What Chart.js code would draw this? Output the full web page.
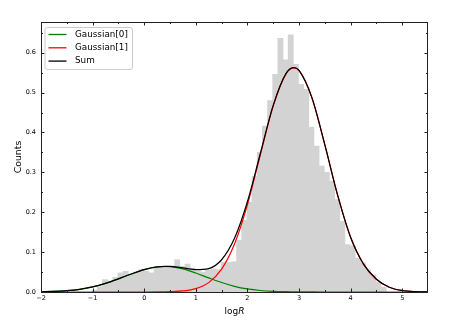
<!DOCTYPE html>
<html>
<head>
<meta charset="utf-8">
<script src="https://cdn.jsdelivr.net/npm/chart.js@4/dist/chart.umd.min.js"></script>
<style>
html,body{margin:0;padding:0;background:#fff;}
#wrap{width:455px;height:325px;position:relative;}
</style>
</head>
<body>
<div id="wrap"><canvas id="c" width="455" height="325"></canvas></div>
<script>
// Histogram bins (centres) and heights
const binCenters = [-0.96,-0.86,-0.76,-0.66,-0.56,-0.46,-0.36,-0.26,-0.16,-0.06,
  0.04,0.14,0.24,0.34,0.44,0.54,0.64,0.74,0.84,0.94,
  1.04,1.14,1.24,1.34,1.44,1.54,1.64,1.74,1.84,1.94,
  2.04,2.14,2.24,2.34,2.44,2.54,2.64,2.74,2.84,2.94,
  3.04,3.14,3.24,3.34,3.44,3.54,3.64,3.74,3.84,3.94,
  4.04,4.14,4.24,4.34,4.44,4.54,4.64];
const binCounts = [0.005,0.013,0.031,0.025,0.037,0.048,0.052,0.045,0.050,0.056,
  0.052,0.048,0.062,0.064,0.062,0.064,0.081,0.064,0.070,0.060,
  0.052,0.050,0.055,0.058,0.056,0.075,0.074,0.076,0.130,0.180,
  0.225,0.290,0.350,0.416,0.480,0.546,0.636,0.582,0.645,0.571,
  0.521,0.508,0.413,0.366,0.316,0.300,0.278,0.232,0.177,0.119,
  0.116,0.085,0.073,0.056,0.043,0.025,0.012];

// Curves
const curveX = [-2,-1.75,-1.5,-1.25,-1,-0.75,-0.5,-0.25,0,0.25,0.4,0.5,0.75,1,1.25,1.5,1.75,2,2.25,2.5,2.75,2.9,3,3.25,3.5,3.75,4,4.25,4.5,4.75,5,5.25,5.5];
const gauss0 = [0.0006,0.0014,0.0033,0.0068,0.0128,0.0216,0.0329,0.0452,0.0561,0.0628,0.0640,0.0635,0.0579,0.0476,0.0353,0.0237,0.0143,0.0078,0.0038,0.0017,0.0007,0.0004,0.0002,0.0001,0,0,0,0,0,0,0,0,0];
const gauss1 = [0,0,0,0,0,0,0,0,0.00003,0.0002,0.0004,0.0007,0.0026,0.0084,0.0235,0.0572,0.1203,0.2186,0.3435,0.4664,0.5475,0.5620,0.5555,0.4872,0.3694,0.2421,0.1372,0.0700,0.0320,0.0120,0.0038,0.0009,0.0002];
const gaussSum = [0.0006,0.0014,0.0033,0.0068,0.0128,0.0216,0.0329,0.0452,0.0561,0.0630,0.0644,0.0642,0.0605,0.0560,0.0588,0.0809,0.1346,0.2264,0.3473,0.4681,0.5482,0.5624,0.5557,0.4873,0.3694,0.2421,0.1372,0.0700,0.0320,0.0120,0.0038,0.0009,0.0002];

const xMajor = [-2,-1,0,1,2,3,4,5];
const xMinor = [-1.5,-0.5,0.5,1.5,2.5,3.5,4.5];
const yMajor = [0,0.1,0.2,0.3,0.4,0.5,0.6];
const yMinor = [0.05,0.15,0.25,0.35,0.45,0.55,0.65];
const xTickLabels = ['\u22122','\u22121','0','1','2','3','4','5'];
const yTickLabels = ['0.0','0.1','0.2','0.3','0.4','0.5','0.6'];
const legendLabels = ['Gaussian[0]','Gaussian[1]','Sum'];
const legendColors = ['#008000','#ff0000','#000000'];

const pts = (xs, ys) => xs.map((x,i)=>({x:x, y:ys[i]}));

const decor = {
  id: 'decor',
  afterDatasetsDraw(chart) {
    const ctx = chart.ctx, a = chart.chartArea, xs = chart.scales.x, ys = chart.scales.y;
    ctx.save();
    ctx.strokeStyle = '#222';
    ctx.lineWidth = 1;
    ctx.strokeRect(Math.round(a.left)+0.5, Math.round(a.top)+0.5, Math.round(a.right-a.left)-1, Math.round(a.bottom-a.top));
    const tick = (len, vals, axis) => {
      ctx.beginPath();
      vals.forEach(v => {
        if (axis === 'x') {
          const p = Math.round(xs.getPixelForValue(v)) + 0.5;
          ctx.moveTo(p, a.bottom); ctx.lineTo(p, a.bottom - len);
          ctx.moveTo(p, a.top); ctx.lineTo(p, a.top + len);
        } else {
          const p = Math.round(ys.getPixelForValue(v)) + 0.5;
          ctx.moveTo(a.left, p); ctx.lineTo(a.left + len, p);
          ctx.moveTo(a.right, p); ctx.lineTo(a.right - len, p);
        }
      });
      ctx.stroke();
    };
    tick(3.5, xMajor, 'x'); tick(2, xMinor, 'x');
    tick(3.5, yMajor, 'y'); tick(2, yMinor, 'y');

    // tick labels
    ctx.fillStyle = '#000';
    ctx.font = '6.5px "DejaVu Sans"';
    ctx.textBaseline = 'middle';
    ctx.textAlign = 'center';
    xMajor.forEach((v, i) => ctx.fillText(xTickLabels[i], xs.getPixelForValue(v), a.bottom + 6.5));
    ctx.textAlign = 'right';
    yMajor.forEach((v, i) => ctx.fillText(yTickLabels[i], a.left - 5, ys.getPixelForValue(v)));

    // y title
    ctx.save();
    ctx.translate(18.5, (a.top + a.bottom) / 2);
    ctx.rotate(-Math.PI / 2);
    ctx.textAlign = 'center';
    ctx.textBaseline = 'middle';
    ctx.font = '9.3px "DejaVu Sans"';
    ctx.fillText('Counts', 0, 0);
    ctx.restore();

    // x-axis title "logR" with italic R
    const f1 = '9px "DejaVu Sans"', f2 = 'italic 9px "DejaVu Sans"';
    ctx.textAlign = 'left';
    ctx.textBaseline = 'alphabetic';
    ctx.font = f1; const w1 = ctx.measureText('log').width;
    ctx.font = f2; const w2 = ctx.measureText('R').width;
    const cx = (a.left + a.right) / 2;
    const sx = cx - (w1 + w2) / 2;
    ctx.font = f1; ctx.fillText('log', sx, 313.5);
    ctx.font = f2; ctx.fillText('R', sx + w1, 313.5);

    // legend
    const lx = 45, ly = 27.5, lw = 87.5, lh = 42;
    ctx.beginPath();
    if (ctx.roundRect) ctx.roundRect(lx, ly, lw, lh, 2.5); else ctx.rect(lx, ly, lw, lh);
    ctx.fillStyle = 'rgba(255,255,255,0.85)';
    ctx.fill();
    ctx.strokeStyle = '#cccccc';
    ctx.lineWidth = 1;
    ctx.stroke();
    ctx.font = '8.8px "DejaVu Sans"';
    ctx.textBaseline = 'middle';
    ctx.textAlign = 'left';
    legendLabels.forEach((t, i) => {
      const y = 34.5 + i * 13.3;
      ctx.strokeStyle = legendColors[i];
      ctx.lineWidth = 1.3;
      ctx.beginPath(); ctx.moveTo(48.5, y); ctx.lineTo(66.5, y); ctx.stroke();
      ctx.fillStyle = '#000';
      ctx.fillText(t, 75, y);
    });
    ctx.restore();
  }
};

new Chart(document.getElementById('c'), {
  type: 'bar',
  data: {
    datasets: [
      { type: 'line', label: 'Sum', data: pts(curveX, gaussSum), borderColor: '#000000', borderWidth: 1.2, pointRadius: 0, cubicInterpolationMode: 'monotone', order: 0 },
      { type: 'line', label: 'Gaussian[1]', data: pts(curveX, gauss1), borderColor: '#ff0000', borderWidth: 1.2, pointRadius: 0, cubicInterpolationMode: 'monotone', order: 1 },
      { type: 'line', label: 'Gaussian[0]', data: pts(curveX, gauss0), borderColor: '#008000', borderWidth: 1.2, pointRadius: 0, cubicInterpolationMode: 'monotone', order: 2 },
      { type: 'bar', label: 'hist', data: pts(binCenters, binCounts), backgroundColor: '#d3d3d3', borderWidth: 0, barPercentage: 1, categoryPercentage: 1, order: 3 }
    ]
  },
  options: {
    responsive: false,
    animation: false,
    events: [],
    layout: { padding: { top: 22, right: 27, left: 0, bottom: 0 } },
    plugins: { legend: { display: false }, tooltip: { enabled: false } },
    scales: {
      x: {
        type: 'linear', min: -2, max: 5.5, offset: false,
        grid: { display: false, offset: false }, border: { display: false },
        ticks: { display: false, stepSize: 1 },
        afterFit(s) { s.height = 33; }
      },
      y: {
        type: 'linear', min: 0, max: 0.677,
        grid: { display: false }, border: { display: false },
        ticks: { display: false, stepSize: 0.1 },
        afterFit(s) { s.width = 41; }
      }
    }
  },
  plugins: [decor]
});
</script>
</body>
</html>
